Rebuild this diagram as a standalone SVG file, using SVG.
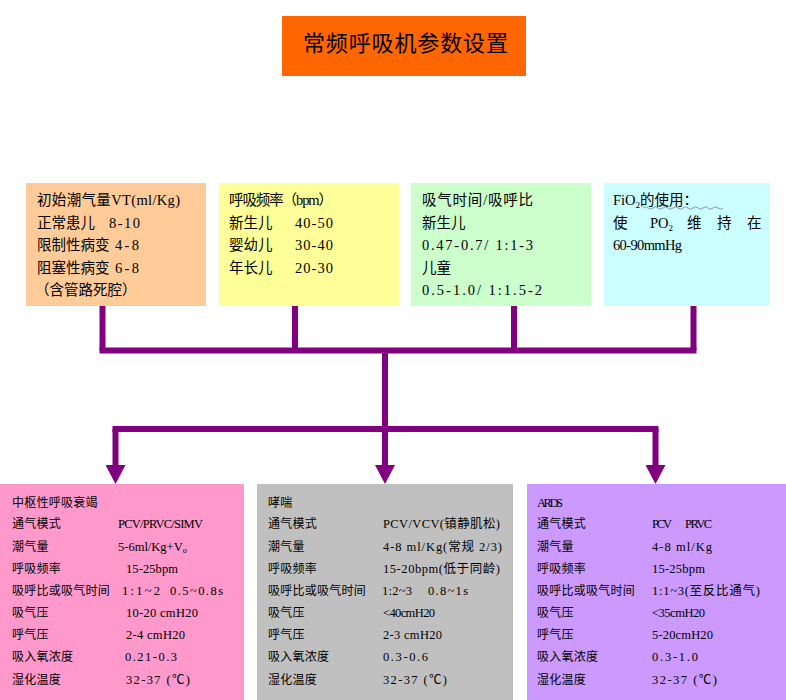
<svg xmlns="http://www.w3.org/2000/svg" width="786" height="700" viewBox="0 0 786 700">
<style>
.t{font-family:"Liberation Serif","Noto Sans CJK SC",serif;font-size:14.5px;fill:#000}
.b{font-family:"Liberation Serif","Noto Sans CJK SC",serif;font-size:12px;fill:#000;letter-spacing:0.25px}
.v{font-family:"Liberation Serif","Noto Sans CJK SC",serif;font-size:12.5px;fill:#000}
.title{font-family:"Noto Sans CJK SC","Liberation Serif",sans-serif;font-size:22px;fill:#000}
.conn{stroke:#800080;fill:none;stroke-width:6}
</style>
<defs>
<marker id="ah" markerUnits="userSpaceOnUse" markerWidth="19" markerHeight="20" viewBox="0 -10 19 20" refX="0" refY="0" orient="auto">
<path d="M0,-10 L19,0 L0,10 z" fill="#800080"/>
</marker>
</defs>
<rect width="786" height="700" fill="#fff"/>

<g id="title">
<rect x="282" y="16" width="244" height="60" fill="#FF6600"/>
<text class="title" x="303" y="51" textLength="205">常频呼吸机参数设置</text>
</g>

<g id="vt">
<rect x="26" y="183" width="180" height="123" fill="#FFCC99"/>
<text class="t" x="37" y="205" textLength="143">初始潮气量VT(ml/Kg)</text>
<text class="t" x="37" y="228">正常患儿</text><text class="t" x="109" y="228" textLength="31">8-10</text>
<text class="t" x="37" y="250">限制性病变</text><text class="t" x="115" y="250" textLength="24">4-8</text>
<text class="t" x="37" y="273">阻塞性病变</text><text class="t" x="115" y="273" textLength="24">6-8</text>
<text class="t" x="35" y="295">（含管路死腔）</text>
</g>

<g id="rr">
<rect x="219" y="183" width="180" height="123" fill="#FFFF99"/>
<text class="t" x="229" y="205" textLength="104">呼吸频率（bpm）</text>
<text class="t" x="229" y="228">新生儿</text><text class="t" x="295" y="228" textLength="38">40-50</text>
<text class="t" x="229" y="250">婴幼儿</text><text class="t" x="295" y="250" textLength="38">30-40</text>
<text class="t" x="229" y="273">年长儿</text><text class="t" x="295" y="273" textLength="38">20-30</text>
</g>

<g id="ti">
<rect x="411" y="183" width="180" height="123" fill="#CCFFCC"/>
<text class="t" x="422" y="205" textLength="111">吸气时间/吸呼比</text>
<text class="t" x="422" y="228">新生儿</text>
<text class="t" x="422" y="250" textLength="111">0.47-0.7/ 1:1-3</text>
<text class="t" x="422" y="273">儿童</text>
<text class="t" x="422" y="295" textLength="120">0.5-1.0/ 1:1.5-2</text>
</g>

<g id="fio2">
<rect x="604" y="183" width="166" height="123" fill="#CCFFFF"/>
<text class="t" x="613" y="205">FiO<tspan font-size="9" dy="3">2</tspan><tspan dy="-3">的使用：</tspan></text>
<path d="M643,208 q2.5,-2.5 5,0 t5,0 t5,0 t5,0 t5,0 t5,0 t5,0 t5,0 t5,0 t5,0 t5,0 t5,0 t5,0 t5,0 t5,0 t5,0" stroke="#8090c0" stroke-width="1" fill="none"/>
<text class="t" y="228"><tspan x="613">使</tspan><tspan x="650">PO</tspan><tspan font-size="9" dy="3">2</tspan><tspan x="687" dy="-3">维</tspan><tspan x="717">持</tspan><tspan x="747">在</tspan></text>
<text class="t" x="613" y="250" textLength="69">60-90mmHg</text>
</g>

<g id="connectors">
<path class="conn" d="M102.5,306 V350 M295,306 V350 M514,306 V350 M693.5,306 V350"/>
<path class="conn" stroke-width="7" d="M99.5,350.5 H696.5"/>
<path class="conn" d="M385,350 V429 M112.5,429 H658.5"/>
<path class="conn" marker-end="url(#ah)" d="M115.5,429 V465"/>
<path class="conn" marker-end="url(#ah)" d="M385,429 V465"/>
<path class="conn" marker-end="url(#ah)" d="M655.5,429 V465"/>
</g>

<g id="central">
<rect x="0" y="484" width="244" height="216" fill="#FF99CC"/>
<text class="b" x="12" y="506.5">中枢性呼吸衰竭</text>
<text class="b" x="12" y="528">通气模式</text><text class="v" x="118" y="528" textLength="85">PCV/PRVC/SIMV</text>
<text class="b" x="12" y="550.7">潮气量</text><text class="v" x="118" y="550.7">5-6ml/Kg+V<tspan font-size="8" dy="2">o</tspan></text>
<text class="b" x="12" y="573">呼吸频率</text><text class="v" x="126" y="573" textLength="52">15-25bpm</text>
<text class="b" x="12" y="594.7">吸呼比或吸气时间</text><text class="v" x="122" y="594.7" textLength="38">1:1~2</text><text class="v" x="170" y="594.7" textLength="53">0.5~0.8s</text>
<text class="b" x="12" y="617">吸气压</text><text class="v" x="126" y="617" textLength="72">10-20 cmH20</text>
<text class="b" x="12" y="639">呼气压</text><text class="v" x="126" y="639" textLength="59">2-4 cmH20</text>
<text class="b" x="12" y="661.4">吸入氧浓度</text><text class="v" x="125" y="661.4" textLength="52">0.21-0.3</text>
<text class="b" x="12" y="683.7">湿化温度</text><text class="v" x="126" y="683.7" textLength="64">32-37 (℃)</text>
</g>

<g id="asthma">
<rect x="257" y="484" width="256" height="216" fill="#C0C0C0"/>
<text class="b" x="268" y="506.5">哮喘</text>
<text class="b" x="268" y="528">通气模式</text><text class="v" x="383" y="528" textLength="117">PCV/VCV(镇静肌松)</text>
<text class="b" x="268" y="550.7">潮气量</text><text class="v" x="383" y="550.7" textLength="119">4-8 ml/Kg(常规 2/3)</text>
<text class="b" x="268" y="573">呼吸频率</text><text class="v" x="383" y="573" textLength="117">15-20bpm(低于同龄)</text>
<text class="b" x="268" y="594.7">吸呼比或吸气时间</text><text class="v" x="382" y="594.7" textLength="30">1:2~3</text><text class="v" x="428" y="594.7" textLength="40">0.8~1s</text>
<text class="b" x="268" y="617">吸气压</text><text class="v" x="383" y="617" textLength="52">&lt;40cmH20</text>
<text class="b" x="268" y="639">呼气压</text><text class="v" x="383" y="639" textLength="59">2-3 cmH20</text>
<text class="b" x="268" y="661.4">吸入氧浓度</text><text class="v" x="383" y="661.4" textLength="45">0.3-0.6</text>
<text class="b" x="268" y="683.7">湿化温度</text><text class="v" x="383" y="683.7" textLength="64">32-37 (℃)</text>
</g>

<g id="ards">
<rect x="527" y="484" width="259" height="216" fill="#CC99FF"/>
<text class="v" font-size="11" x="537" y="506.5" textLength="26">ARDS</text>
<text class="b" x="537" y="528">通气模式</text><text class="v" x="652" y="528" textLength="20">PCV</text><text class="v" x="685" y="528" textLength="27">PRVC</text>
<text class="b" x="537" y="550.7">潮气量</text><text class="v" x="652" y="550.7" textLength="60">4-8 ml/Kg</text>
<text class="b" x="537" y="573">呼吸频率</text><text class="v" x="652" y="573" textLength="53">15-25bpm</text>
<text class="b" x="537" y="594.7">吸呼比或吸气时间</text><text class="v" x="652" y="594.7" textLength="108">1:1~3(至反比通气)</text>
<text class="b" x="537" y="617">吸气压</text><text class="v" x="652" y="617" textLength="53">&lt;35cmH20</text>
<text class="b" x="537" y="639">呼气压</text><text class="v" x="652" y="639" textLength="61">5-20cmH20</text>
<text class="b" x="537" y="661.4">吸入氧浓度</text><text class="v" x="652" y="661.4" textLength="46">0.3-1.0</text>
<text class="b" x="537" y="683.7">湿化温度</text><text class="v" x="652" y="683.7" textLength="65">32-37 (℃)</text>
</g>
</svg>
